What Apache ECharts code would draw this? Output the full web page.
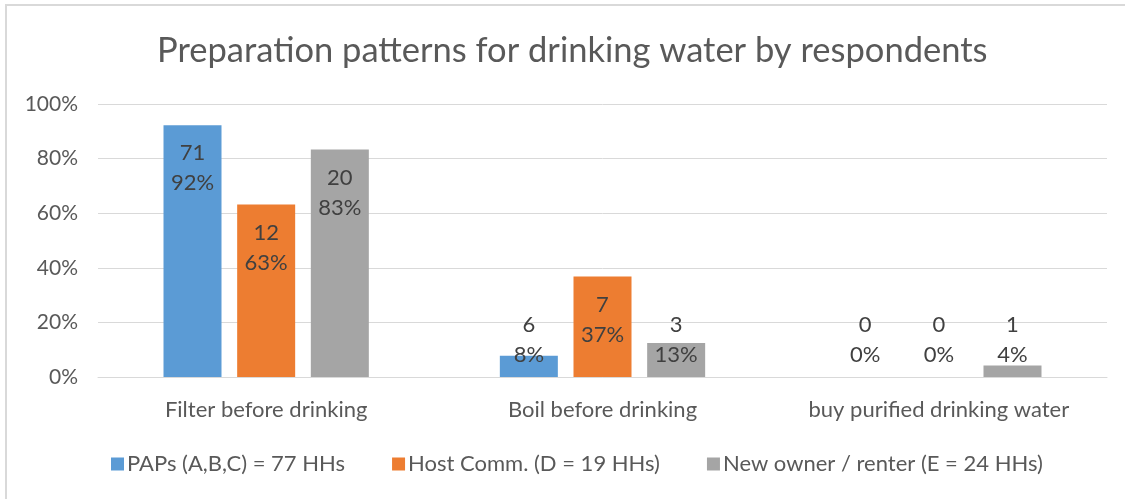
<!DOCTYPE html>
<html>
<head>
<meta charset="utf-8">
<script src="https://cdn.jsdelivr.net/npm/echarts@6/dist/echarts.min.js"></script>
<style>
html,body{margin:0;padding:0;background:#fff;}
#frame{position:absolute;left:5px;top:4px;width:1120px;height:495px;border-left:2px solid #d9d9d9;border-top:2px solid #d9d9d9;box-sizing:border-box;}
#chart{position:absolute;left:0;top:0;width:1125px;height:499px;}
</style>
</head>
<body>
<div id="chart"></div>
<div id="frame"></div>
<script>
const categories = ['Filter before drinking', 'Boil before drinking', 'buy purified drinking water'];
const seriesNames = ['PAPs (A,B,C) = 77 HHs', 'Host Comm. (D = 19 HHs)', 'New owner / renter (E = 24 HHs)'];
const papsPct = [92.2, 7.8, 0];
const hostPct = [63.2, 36.8, 0];
const ownerPct = [83.3, 12.5, 4.2];
const papsCount = [71, 6, 0];
const hostCount = [12, 7, 0];
const ownerCount = [20, 3, 1];
const yTicks = [0, 20, 40, 60, 80, 100];
const colors = ['#5B9BD5', '#ED7D31', '#A5A5A5'];

const FONT = 'Lato';
const pcts = [papsPct, hostPct, ownerPct];
const counts = [papsCount, hostCount, ownerCount];

function makeData(p, c) {
  return p.map((v, i) => {
    const big = v >= 30;
    return {
      value: v,
      count: c[i],
      label: big ? { position: 'insideTop', distance: 13 } : { position: 'insideBottom', distance: 7 }
    };
  });
}

const chart = echarts.init(document.getElementById('chart'));
chart.setOption({
  animation: false,
  title: {
    text: 'Preparation patterns for drinking water by respondents',
    left: 152, top: 28,
    textStyle: { fontFamily: FONT, fontSize: 34.5, fontWeight: 'normal', color: '#595959' }
  },
  legend: {
    top: 448, left: 106,
    itemWidth: 13, itemHeight: 13, itemGap: 47,
    icon: 'rect',
    textStyle: { fontFamily: FONT, fontSize: 22, color: '#595959', padding: [0, 0, 0, -2] },
    data: seriesNames
  },
  grid: { left: 98, right: 18, top: 104, height: 273 },
  xAxis: {
    type: 'category', data: categories,
    axisLine: { lineStyle: { color: '#d9d9d9' } },
    axisTick: { show: false },
    axisLabel: { fontFamily: FONT, fontSize: 22, color: '#595959', margin: 22, interval: 0 }
  },
  yAxis: {
    type: 'value', min: yTicks[0], max: yTicks[yTicks.length - 1], interval: 20,
    axisLine: { show: false }, axisTick: { show: false },
    splitLine: { lineStyle: { color: '#d9d9d9' } },
    axisLabel: { fontFamily: FONT, fontSize: 21, color: '#595959', margin: 20, formatter: '{value}%' }
  },
  series: seriesNames.map((name, s) => ({
    name, type: 'bar', barWidth: 58, barGap: '27%',
    itemStyle: { color: colors[s] },
    data: makeData(pcts[s], counts[s]),
    label: {
      show: true, fontFamily: FONT, fontSize: 22, color: '#404040', lineHeight: 30,
      formatter: p => p.data.count + '\n' + Math.round(p.value) + '%'
    }
  }))
});
</script>
</body>
</html>
